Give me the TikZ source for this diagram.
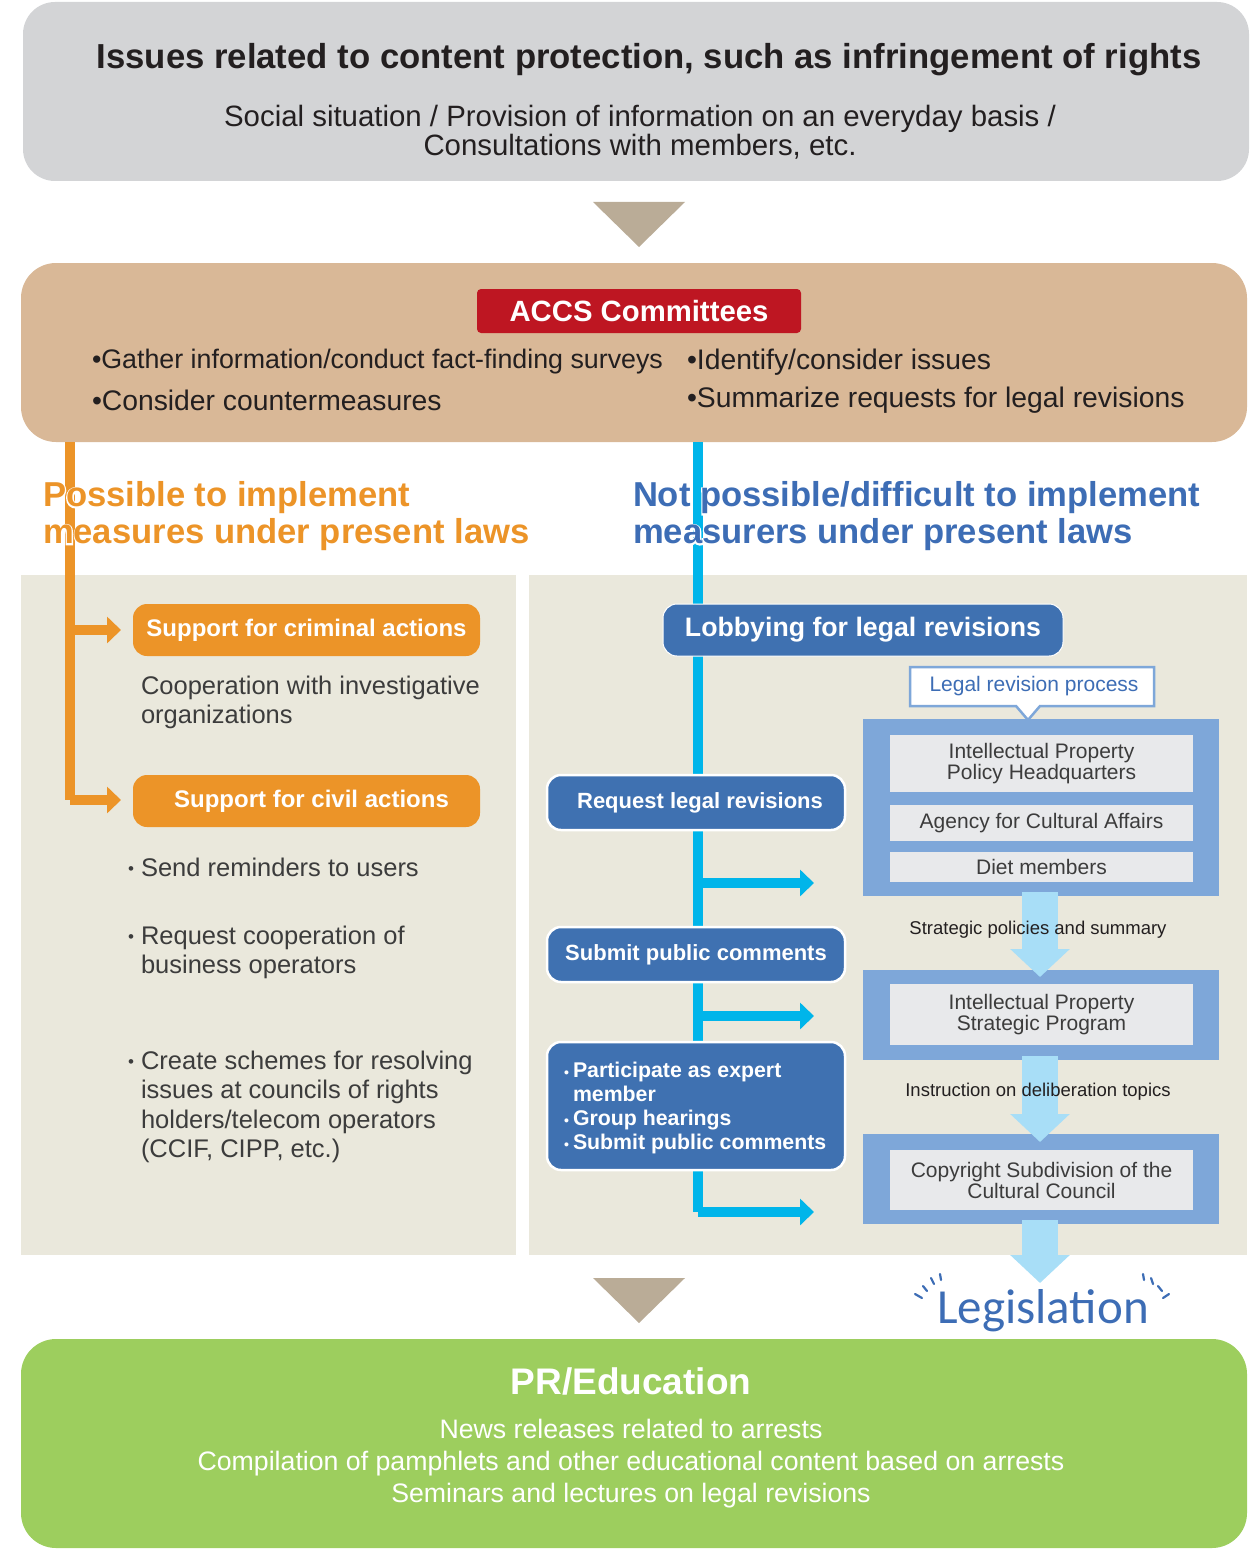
\documentclass[tikz,border=0pt]{standalone}
\usepackage{fontspec}
\setmainfont{Liberation Sans}
\newfontfamily\legfont{Carlito}
\newfontface\halofont[FakeBold=8]{Liberation Sans Bold}
\usetikzlibrary{arrows.meta}
\definecolor{topgray}{HTML}{D3D4D6}
\definecolor{tanC}{HTML}{D9B897}
\definecolor{redC}{HTML}{BE1622}
\definecolor{orangeC}{HTML}{EC9428}
\definecolor{titleBlue}{HTML}{3D6DB5}
\definecolor{beigeC}{HTML}{EAE8DC}
\definecolor{boxBlue}{HTML}{3F71B1}
\definecolor{frameBlue}{HTML}{7EA7D9}
\definecolor{innerGray}{HTML}{E8E9EB}
\definecolor{lightArr}{HTML}{A8DEF7}
\definecolor{cyanC}{HTML}{00B5EA}
\definecolor{triC}{HTML}{BAAC97}
\definecolor{greenC}{HTML}{9DCE5E}
\definecolor{darkText}{HTML}{231F20}
\definecolor{grayText}{HTML}{3C3C3C}
\newcommand{\fsz}[2]{\fontsize{#1}{#2}\selectfont}
\newcommand{\lbul}{\llap{\raisebox{1.5pt}{\fsz{17}{17}•}\hspace{7pt}}}
\newcommand{\bbul}{\llap{\fsz{14}{14}•\hspace{4pt}}}
\begin{document}
\begin{tikzpicture}[x=1pt,y=-1pt,
  every node/.style={inner sep=0pt,outer sep=0pt},
  obox/.style={fill=orangeC, rounded corners=14pt, text=white, font=\bfseries\fsz{24}{28}, minimum width=347pt, minimum height=52pt},
  bbox/.style={fill=boxBlue, draw=white, line width=2.5pt, rounded corners=14pt, text=white, font=\bfseries\fsz{22}{24}, minimum width=298pt},
  frame/.style={fill=frameBlue, minimum width=356pt},
  inbox/.style={fill=innerGray, text=grayText, font=\fsz{21}{21}, align=center, minimum width=303pt},
  oline/.style={draw=orangeC, line width=10pt, line join=miter},
  cline/.style={draw=cyanC, line width=10pt, line join=miter},
  tipA/.style={-{Triangle[width=26pt,length=14pt]}},
  bigarr/.style={draw=lightArr, line width=36pt, -{Triangle[width=58pt,length=28pt]}},
  lefttxt/.style={text=grayText, font=\fsz{25.5}{29.5}, align=left, anchor=west},
  acctxt/.style={anchor=west, font=\fsz{28.3}{30}, text=darkText},
  bigtitle/.style={anchor=west, align=left, font=\bfseries\fsz{34.6}{37}},
  halo/.style={anchor=west, align=left, text=white, font=\halofont\fsz{34.6}{37}},
  spark/.style={draw=titleBlue, line width=2.2pt, line cap=round},
  tri/.style={fill=triC}]
\useasboundingbox (0,0) rectangle (1255,1549);

% ---------- top box
\node[fill=topgray, rounded corners=32pt, minimum width=1226pt, minimum height=179pt] (top) at (636,91.5) {};
\node[font=\bfseries\fsz{34.7}{38}, text=darkText] (toptitle) at (649,60) {Issues related to content protection, such as infringement of rights};
\node[font=\fsz{29.4}{29}, text=darkText, align=center] (topsub) at (640,132) {Social situation / Provision of information on an everyday basis /\\Consultations with members, etc.};

\fill[tri] (593,202) -- (685,202) -- (639,247) -- cycle;

% ---------- ACCS box
\node[fill=tanC, rounded corners=35pt, minimum width=1226pt, minimum height=179pt] (accs) at (634,352.5) {};
\node[fill=redC, rounded corners=4pt, minimum width=324pt, minimum height=44pt, text=white, font=\bfseries\fsz{29.3}{32}] (accstitle) at (639,311) {ACCS Committees};
\node[acctxt, font=\fsz{26.8}{30}] (b1) at (92,362) {•Gather information/conduct fact-finding surveys};
\node[acctxt] (b2) at (687,362) {•Identify/consider issues};
\node[acctxt] (b3) at (92,400) {•Consider countermeasures};
\node[acctxt] (b4) at (687,400) {•Summarize requests for legal revisions};

% ---------- panels
\node[fill=beigeC, minimum width=495pt, minimum height=680pt] (lpanel) at (268.5,915) {};
\node[fill=beigeC, minimum width=718pt, minimum height=680pt] (rpanel) at (888,915) {};

% ---------- orange connector
\coordinate (oTop) at (70,442);
\coordinate (oMid) at (70,630);
\coordinate (oBot) at (70,800);
\coordinate (oTip1) at (121,630);
\coordinate (oTip2) at (121,800);
\draw[oline] (oTop) -- (oBot);
\draw[oline, tipA] (oMid) -- (oTip1);
\draw[oline, tipA] (oBot) -- (oTip2);

% ---------- cyan connector
\coordinate (cTop) at (698,442);
\coordinate (c1) at (698,883);
\coordinate (c2) at (698,1016);
\coordinate (c3) at (698,1212);
\coordinate (cT1) at (814,883);
\coordinate (cT2) at (814,1016);
\coordinate (cT3) at (814,1212);
\draw[cline] (cTop) -- (c3);
\draw[cline, tipA] (c1) -- (cT1);
\draw[cline, tipA] (c2) -- (cT2);
\draw[cline, tipA] (c3) -- (cT3);

% ---------- branch titles (white halo under coloured text)
\node[halo] (ltitleh) at (43,516.5) {Possible to implement\\measures under present laws};
\node[bigtitle, text=orangeC] (ltitle) at (43,516.5) {Possible to implement\\measures under present laws};
\node[halo] (rtitleh) at (633,516.5) {Not possible/difficult to implement\\measurers under present laws};
\node[bigtitle, text=titleBlue] (rtitle) at (633,516.5) {Not possible/difficult to implement\\measurers under present laws};

% ---------- left column
\node[obox] (crim) at (306.5,630) {Support for criminal actions};
\node[lefttxt] (coop) at (141,702.5) {Cooperation with investigative\\organizations};
\node[obox] (civil) at (306.5,801) {\hspace{10pt}Support for civil actions};
\node[lefttxt] (l1) at (141,867) {\lbul Send reminders to users};
\node[lefttxt] (l2) at (141,952.5) {\lbul Request cooperation of\\business operators};
\node[lefttxt] (l3) at (141,1107) {\lbul Create schemes for resolving\\issues at councils of rights\\holders/telecom operators\\(CCIF, CIPP, etc.)};

% ---------- right column
\node[fill=boxBlue, draw=white, line width=1pt, rounded corners=14pt, minimum width=400pt, minimum height=52pt, text=white, font=\bfseries\fsz{26.7}{30}] (lobby) at (863,630) {Lobbying for legal revisions};
\node[bbox, minimum height=55pt] (req) at (696,802.5) {\hspace{8pt}Request legal revisions};
\node[bbox, minimum height=55pt] (sub) at (696,954.5) {Submit public comments};
\node[bbox, minimum height=128pt] (part) at (696,1106) {};
\node[anchor=west, align=left, text=white, font=\bfseries\fsz{21.3}{24}] (parttxt) at (573,1108) {\bbul Participate as expert\\member\\\bbul Group hearings\\\bbul Submit public comments};

% callout
\draw[draw=frameBlue, line width=2.5pt, fill=white] (910,667) -- (1154,667) -- (1154,706) -- (1040,706) -- (1028,720) -- (1016,706) -- (910,706) -- cycle;
\node[text=titleBlue, font=\fsz{21}{24}] (callout) at (1034,686) {Legal revision process};

% frames
\node[frame, minimum height=177pt] (f1) at (1041,807.5) {};
\node[inbox, minimum height=57pt] (ip1) at (1041.5,763.5) {Intellectual Property\\Policy Headquarters};
\node[inbox, minimum height=36pt] (aca) at (1041.5,823) {Agency for Cultural Affairs};
\node[inbox, minimum height=30pt] (diet) at (1041.5,867) {Diet members};
\node[frame, minimum height=90pt] (f2) at (1041,1015) {};
\node[inbox, minimum height=61pt] (ip2) at (1041.5,1014.5) {Intellectual Property\\Strategic Program};
\node[frame, minimum height=90pt] (f3) at (1041,1179) {};
\node[inbox, minimum height=60pt] (csc) at (1041.5,1180) {Copyright Subdivision of the\\Cultural Council};

% big arrows
\coordinate (a1s) at (1040,892);
\coordinate (a1e) at (1040,977);
\coordinate (a2s) at (1040,1056);
\coordinate (a2e) at (1040,1142);
\coordinate (a3s) at (1040,1220);
\coordinate (a3e) at (1040,1283);
\draw[bigarr] (a1s) -- (a1e);
\draw[bigarr] (a2s) -- (a2e);
\draw[bigarr] (a3s) -- (a3e);
\node[text=darkText, font=\fsz{18.5}{20}] (lab1) at (1038,930) {Strategic policies and summary};
\node[text=darkText, font=\fsz{18.5}{20}] (lab2) at (1038,1092) {Instruction on deliberation topics};

% bottom
\fill[tri] (593,1278) -- (685,1278) -- (639,1323) -- cycle;
\node[text=titleBlue, font=\legfont\fsz{49}{52}] (legis) at (1043,1311) {Legislation};
\draw[spark] (915,1294) -- (922,1298);
\draw[spark] (923,1286) -- (927,1291);
\draw[spark] (931,1278) -- (934,1284);
\draw[spark] (940,1274) -- (941,1280);
\draw[spark] (1143,1274) -- (1144,1280);
\draw[spark] (1151,1278) -- (1153,1284);
\draw[spark] (1158,1286) -- (1162,1291);
\draw[spark] (1163,1298) -- (1169,1294);

\node[fill=greenC, rounded corners=35pt, minimum width=1226pt, minimum height=209pt] (pr) at (634,1443.5) {};
\node[text=white, font=\bfseries\fsz{37}{40}] (prtitle) at (631,1381) {PR/Education};
\node[text=white, font=\fsz{26.7}{32}, align=center] (prtxt) at (631,1464) {News releases related to arrests\\Compilation of pamphlets and other educational content based on arrests\\Seminars and lectures on legal revisions};
\end{tikzpicture}
\end{document}
